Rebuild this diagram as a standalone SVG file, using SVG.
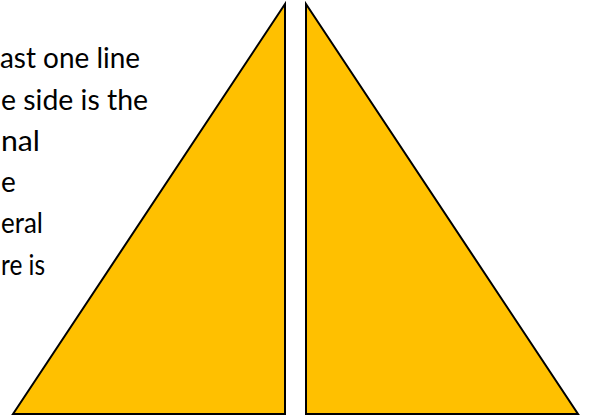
<svg xmlns="http://www.w3.org/2000/svg" width="591" height="419" viewBox="0 0 591 419">
<style>
.tri{fill:#FFC000;stroke:#000;stroke-width:2;stroke-linejoin:miter}
.t{font-family:"Lato","Liberation Sans",sans-serif;font-size:28px;fill:#000}
</style>
<rect width="591" height="419" fill="#fff"/>
<g id="text">
<text class="t" x="0" y="68" textLength="140" lengthAdjust="spacingAndGlyphs">ast one line</text>
<text class="t" x="1" y="110" textLength="147" lengthAdjust="spacingAndGlyphs">e side is the</text>
<text class="t" x="1" y="151" textLength="39" lengthAdjust="spacingAndGlyphs">nal</text>
<text class="t" x="1" y="192">e</text>
<text class="t" x="1" y="233" textLength="42" lengthAdjust="spacingAndGlyphs">eral</text>
<text class="t" x="1" y="275" textLength="44" lengthAdjust="spacingAndGlyphs">re is</text>
</g>
<g id="left-triangle">
<polygon class="tri" points="13,414 285,4 285,414"/>
</g>
<g id="right-triangle">
<polygon class="tri" points="306,4 306,414 578,414"/>
</g>
<g id="connectors"></g>
</svg>
